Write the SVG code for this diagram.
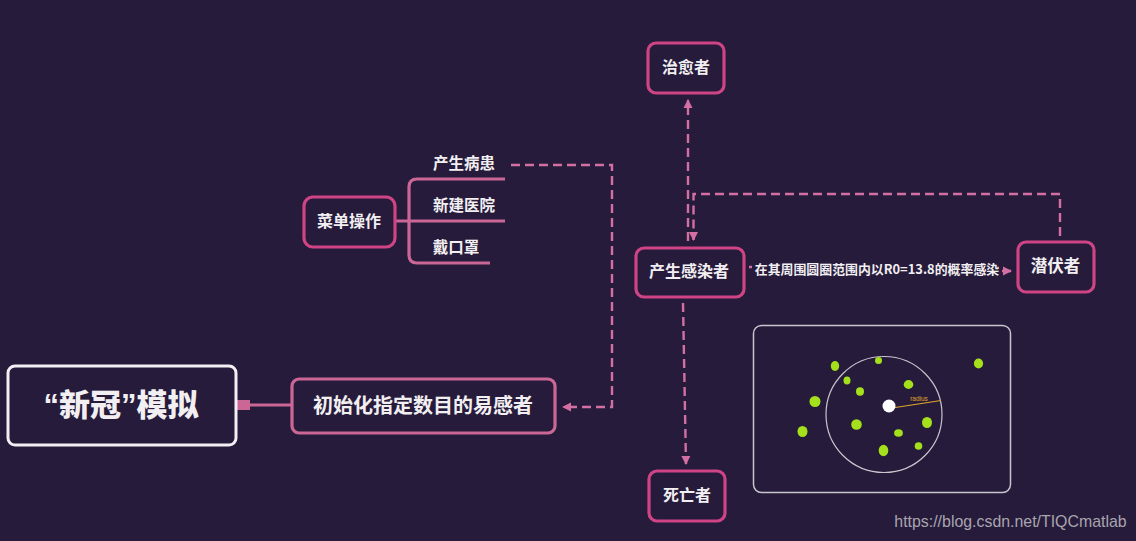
<svg xmlns="http://www.w3.org/2000/svg" width="1136" height="541" viewBox="0 0 1136 541">
<style>
text{font-family:"Noto Sans CJK SC","Liberation Sans",sans-serif;font-weight:700;fill:#f2eff2;text-anchor:middle}
.title{font-family:"Liberation Sans","Noto Sans CJK SC",sans-serif;font-weight:900;font-size:31px}
.radius{font-family:"Liberation Sans",sans-serif;font-weight:400;font-size:6.500px;fill:#e0a52a}
.mark{font-family:"Liberation Sans",sans-serif;font-weight:400;font-size:15.900px;fill:#a9a5af}
.box{fill:#261b3b;stroke:#ce4485;stroke-width:3.200}
.soft{fill:#261b3b;stroke:#cb6796;stroke-width:3.200}
.solid{fill:none;stroke:#cb6796;stroke-width:3.200}
.dash{fill:none;stroke:#d46fa4;stroke-width:2.400;stroke-dasharray:9 5}
.dot{fill:#a4e01c}
</style>
<defs>
<marker id="arrow" markerWidth="12" markerHeight="12" refX="8" refY="5" orient="auto" markerUnits="userSpaceOnUse"><path d="M0 0.500L9 5L0 9.500Z" fill="#d46fa4"/></marker>
</defs>
<rect width="1136" height="541" fill="#261b3b"/>
<g id="connectors">
<path class="solid" d="M236 405H292"/>
<rect x="236" y="400" width="14" height="10" fill="#cb6796"/>
<path class="solid" d="M395 221H505M505 179H417Q409 179 409 187V255Q409 263 417 263H490"/>
<path class="dash" d="M511 165H612V407H563" marker-end="url(#arrow)"/>
<path class="dash" d="M688 241V100" marker-end="url(#arrow)"/>
<path class="dash" d="M1060 236V194H693.500V240" marker-end="url(#arrow)"/>
<path class="dash" d="M683 303L686 464" marker-end="url(#arrow)"/>
<path class="dash" d="M749 267H752M1002 271H1011" marker-end="url(#arrow)"/>
</g>
<g id="node-main"><rect x="8" y="366" width="228" height="79" rx="7" fill="#261b3b" stroke="#f3f0f3" stroke-width="3"/><text class="title" x="121" y="416">“新冠”模拟</text></g>
<g id="node-init"><rect class="soft" x="292" y="379" width="263" height="54" rx="7"/><text x="423" y="413" font-size="20">初始化指定数目的易感者</text></g>
<g id="node-menu"><rect class="box" x="304" y="197" width="91" height="50" rx="9"/><text x="349" y="227" font-size="16">菜单操作</text></g>
<g id="node-patient"><text x="464" y="169" font-size="15.500">产生病患</text></g>
<g id="node-hospital"><text x="464" y="211" font-size="15.500">新建医院</text></g>
<g id="node-mask"><text x="456" y="253" font-size="15.500">戴口罩</text></g>
<g id="node-cured"><rect class="box" x="648" y="43" width="76" height="50" rx="8"/><text x="686" y="73" font-size="16">治愈者</text></g>
<g id="node-infected"><rect class="box" x="636" y="248" width="108" height="49" rx="8"/><text x="689" y="277" font-size="16">产生感染者</text></g>
<g id="node-latent"><rect class="box" x="1018" y="242" width="76" height="50" rx="8"/><text x="1055.500" y="272" font-size="16.500">潜伏者</text></g>
<g id="node-dead"><rect class="box" x="649" y="471" width="76" height="50" rx="8"/><text x="687" y="501" font-size="16">死亡者</text></g>
<text x="877" y="274" font-size="12.900">在其周围圆圈范围内以R0=13.8的概率感染</text>
<g id="node-panel">
<rect x="753.500" y="325.500" width="257" height="167" rx="8" fill="#261b3b" stroke="#c9c5cf" stroke-width="1.500"/>
<circle cx="884" cy="414.500" r="58" fill="none" stroke="#c9c5cf" stroke-width="1.200"/>
<path d="M892 408L941 400.500" stroke="#e0a52a" stroke-width="1.200"/>
<text class="radius" x="919" y="401">radius</text>
<circle cx="889" cy="406" r="6.500" fill="#fff"/>
<ellipse class="dot" cx="835" cy="366" rx="4.200" ry="5"/>
<ellipse class="dot" cx="878.500" cy="360.500" rx="3.500" ry="3.500"/>
<ellipse class="dot" cx="847" cy="380.500" rx="3.500" ry="4"/>
<ellipse class="dot" cx="860" cy="391.500" rx="4" ry="4.200"/>
<ellipse class="dot" cx="908.500" cy="384.500" rx="4.800" ry="4.400"/>
<ellipse class="dot" cx="978.500" cy="363.500" rx="4.600" ry="5"/>
<ellipse class="dot" cx="815" cy="401.500" rx="5.500" ry="5.500"/>
<ellipse class="dot" cx="802.500" cy="431.500" rx="5" ry="5.500"/>
<ellipse class="dot" cx="856.500" cy="424.500" rx="5.300" ry="5.300"/>
<ellipse class="dot" cx="927" cy="422.500" rx="5" ry="5.500"/>
<ellipse class="dot" cx="898.500" cy="433" rx="4.400" ry="3.800"/>
<ellipse class="dot" cx="918.500" cy="446" rx="3.800" ry="3.800"/>
<ellipse class="dot" cx="883.500" cy="450.500" rx="4.800" ry="5.700"/>
</g>
<text class="mark" x="1010.500" y="527">https://blog.csdn.net/TIQCmatlab</text>
</svg>
